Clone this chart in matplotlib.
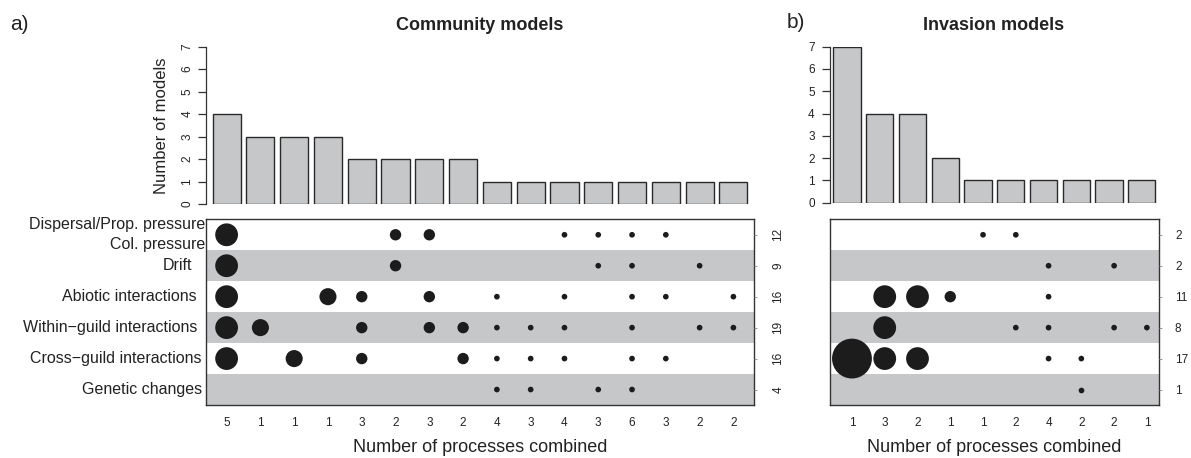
#!/usr/bin/env python3
"""
Process combinations in community and invasion models: bar + dot matrix.
"""

import matplotlib
matplotlib.use('Agg')
import matplotlib.pyplot as plt
import matplotlib.transforms as mtransforms
import numpy as np

plt.rcParams['font.family'] = ['Liberation Sans', 'DejaVu Sans']

# --- data -------------------------------------------------------------------
processes = ['Dispersal/Prop. pressure\nCol. pressure', 'Drift',
             'Abiotic interactions', 'Within\u2212guild interactions',
             'Cross\u2212guild interactions', 'Genetic changes']

# community models: number of models per combination
comm_counts = [4, 3, 3, 3, 2, 2, 2, 2, 1, 1, 1, 1, 1, 1, 1, 1]
comm_nproc = [5, 1, 1, 1, 3, 2, 3, 2, 4, 3, 4, 3, 6, 3, 2, 2]
comm_totals = [12, 9, 16, 19, 16, 4]
comm_matrix = [
    [1, 0, 0, 0, 0, 1, 1, 0, 0, 0, 1, 1, 1, 1, 0, 0],
    [1, 0, 0, 0, 0, 1, 0, 0, 0, 0, 0, 1, 1, 0, 1, 0],
    [1, 0, 0, 1, 1, 0, 1, 0, 1, 0, 1, 0, 1, 1, 0, 1],
    [1, 1, 0, 0, 1, 0, 1, 1, 1, 1, 1, 0, 1, 0, 1, 1],
    [1, 0, 1, 0, 1, 0, 0, 1, 1, 1, 1, 0, 1, 1, 0, 0],
    [0, 0, 0, 0, 0, 0, 0, 0, 1, 1, 0, 1, 1, 0, 0, 0],
]

# invasion models
inv_counts = [7, 4, 4, 2, 1, 1, 1, 1, 1, 1]
inv_nproc = [1, 3, 2, 1, 1, 2, 4, 2, 2, 1]
inv_totals = [2, 2, 11, 8, 17, 1]
inv_matrix = [
    [0, 0, 0, 0, 1, 1, 0, 0, 0, 0],
    [0, 0, 0, 0, 0, 0, 1, 0, 1, 0],
    [0, 1, 1, 1, 0, 0, 1, 0, 0, 0],
    [0, 1, 0, 0, 0, 1, 1, 0, 1, 1],
    [1, 1, 1, 0, 0, 0, 1, 1, 0, 0],
    [0, 0, 0, 0, 0, 0, 0, 1, 0, 0],
]

BAR_GREY = '#C6C7C9'
DOT = '#1c1c1c'
W, H = 1191, 458


def px_axes(fig, x0, x1, ytop, ybot):
    """axes from pixel box"""
    return fig.add_axes([x0 / W, 1 - ybot / H, (x1 - x0) / W, (ybot - ytop) / H])


def draw_bars(ax, counts, xlim, rotate_ticks):
    x = np.arange(len(counts))
    ax.bar(x, counts, width=1 / 1.2, color=BAR_GREY, edgecolor='#2a2a2a',
           linewidth=1.0)
    ax.set_xlim(*xlim)
    ax.set_ylim(0, 7)
    for s in ['top', 'right', 'bottom']:
        ax.spines[s].set_visible(False)
    ax.spines['left'].set_linewidth(0.9)
    ax.spines['left'].set_color('#333333')
    ax.set_xticks([])
    ax.set_yticks(range(8))
    ax.tick_params(axis='y', length=6, width=0.9, color='#333333',
                   labelsize=8.5, labelcolor='#222222',
                   pad=3 if rotate_ticks else 5)
    if rotate_ticks:
        for lab in ax.get_yticklabels():
            lab.set_rotation(90)
            lab.set_va('center')


def draw_dots(ax, counts, matrix, nproc, totals, xlim, rotate_totals):
    ncol = len(counts)
    nrow = len(matrix)
    for r in range(nrow):
        if r % 2 == 1:
            ax.axhspan(r - 0.5, r + 0.5, color=BAR_GREY, lw=0, zorder=0)
    for r in range(nrow):
        cols = [c for c in range(ncol) if matrix[r][c]]
        sizes = [(4.1 * counts[c]) ** 2 for c in cols]
        ax.scatter(cols, [r] * len(cols), s=sizes, color=DOT, lw=0, zorder=3)
    ax.set_xlim(*xlim)
    ax.set_ylim(nrow - 0.5, -0.5)
    for s in ax.spines.values():
        s.set_linewidth(1.0)
        s.set_color('#333333')
        s.set_zorder(5)
    ax.set_xticks(range(ncol))
    ax.set_xticklabels([str(v) for v in nproc])
    ax.tick_params(axis='x', length=0, pad=9, labelsize=8.5,
                   labelcolor='#222222')
    ax.set_yticks([])
    ax.set_xlabel('Number of processes combined', fontsize=13,
                  color='#222222', labelpad=7)
    # totals on the right
    ax2 = ax.twinx()
    ax2.set_ylim(nrow - 0.5, -0.5)
    ax2.set_yticks(range(nrow))
    ax2.set_yticklabels([str(v) for v in totals])
    ax2.tick_params(axis='y', length=2, width=0.6, color='#888888',
                    labelsize=8.5, labelcolor='#222222',
                    pad=15.5 if rotate_totals else 9.5)
    for s in ax2.spines.values():
        s.set_visible(False)
    if rotate_totals:
        for lab in ax2.get_yticklabels():
            lab.set_rotation(90)
            lab.set_va('center')
            lab.set_ha('center')
    else:
        for lab in ax2.get_yticklabels():
            lab.set_ha('left')


fig = plt.figure(figsize=(W / 100, H / 100), dpi=100)

# panel a: community models
ax_cb = px_axes(fig, 206, 754, 46.7, 204)
ax_cd = px_axes(fig, 206, 754, 219.3, 405)
draw_bars(ax_cb, comm_counts, (-0.61, 15.61), rotate_ticks=True)
ax_cb.set_ylabel('Number of models', fontsize=12, color='#222222', labelpad=9)
draw_dots(ax_cd, comm_counts, comm_matrix, comm_nproc, comm_totals,
          (-0.61, 15.61), rotate_totals=True)

# row labels, right-aligned left of the frame
label_ends = [0, 13, 8, 8, 3, 3]   # pixel gap to the frame
for r, (name, gap) in enumerate(zip(processes, label_ends)):
    trans = mtransforms.blended_transform_factory(ax_cd.transAxes, ax_cd.transData)
    ax_cd.text(-(gap + 1) / 548, r, name, transform=trans, ha='right',
               va='center', fontsize=11.5, color='#222222', linespacing=1.38,
               multialignment='right', clip_on=False)

# panel b: invasion models
ax_ib = px_axes(fig, 830, 1159, 46.7, 202.7)
ax_id = px_axes(fig, 830, 1159, 219.3, 405)
draw_bars(ax_ib, inv_counts, (-0.519, 9.528), rotate_ticks=False)
draw_dots(ax_id, inv_counts, inv_matrix, inv_nproc, inv_totals,
          (-0.67, 9.37), rotate_totals=False)

# titles and panel letters
fig.text(480 / W, 1 - 25 / H, 'Community models', fontsize=13, weight='bold',
         ha='center', va='center', color='#222222')
fig.text(994 / W, 1 - 25 / H, 'Invasion models', fontsize=13, weight='bold',
         ha='center', va='center', color='#222222')
fig.text(10 / W, 1 - 24 / H, 'a)', fontsize=15, ha='left', va='center',
         color='#222222')
fig.text(787 / W, 1 - 22 / H, 'b)', fontsize=15, ha='left', va='center',
         color='#222222')

plt.savefig('out.png', dpi=100)
plt.close()
print("Created out.png")
